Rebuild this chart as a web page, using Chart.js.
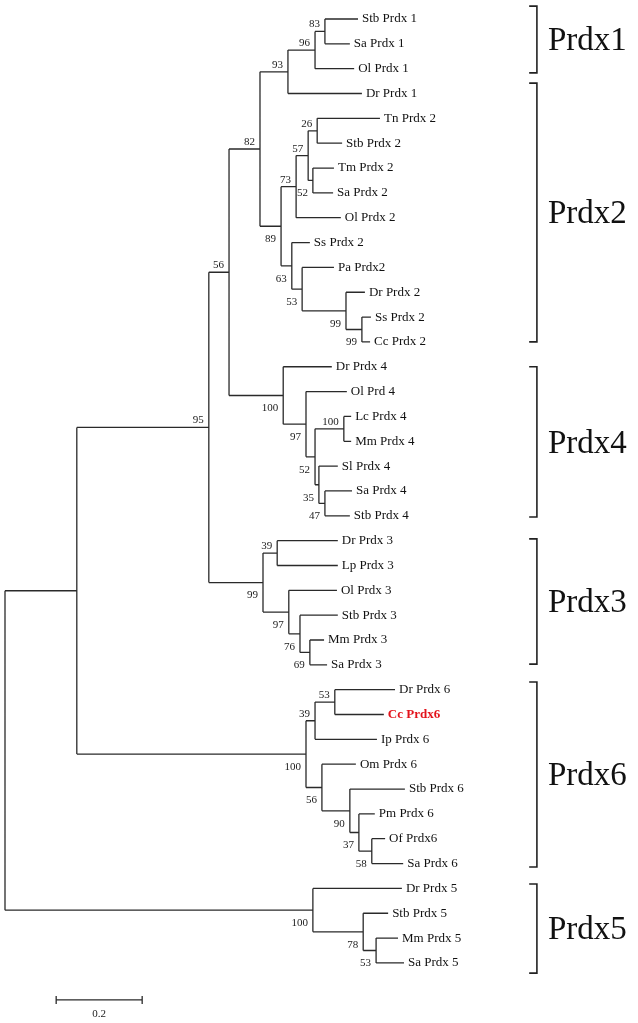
<!DOCTYPE html>
<html>
<head>
<meta charset="utf-8">
<script src="https://cdn.jsdelivr.net/npm/chart.js@4.4.1/dist/chart.umd.min.js"></script>
<style>
  html, body { margin: 0; padding: 0; background: #fff; }
  #wrap { width: 638px; height: 1023px; }
</style>
</head>
<body>
<div id="wrap"><canvas id="tree"></canvas></div>
<script>
// leaves, top to bottom, with distance from the root
const leafNames = [
  "Stb Prdx 1", "Sa Prdx 1", "Ol Prdx 1", "Dr Prdx 1",
  "Tn Prdx 2", "Stb Prdx 2", "Tm Prdx 2", "Sa Prdx 2", "Ol Prdx 2", "Ss Prdx 2",
  "Pa Prdx2", "Dr Prdx 2", "Ss Prdx 2", "Cc Prdx 2",
  "Dr Prdx 4", "Ol Prd 4", "Lc Prdx 4", "Mm Prdx 4", "Sl Prdx 4", "Sa Prdx 4", "Stb Prdx 4",
  "Dr Prdx 3", "Lp Prdx 3", "Ol Prdx 3", "Stb Prdx 3", "Mm Prdx 3", "Sa Prdx 3",
  "Dr Prdx 6", "Cc Prdx6", "Ip Prdx 6", "Om Prdx 6", "Stb Prdx 6", "Pm Prdx 6", "Of Prdx6", "Sa Prdx 6",
  "Dr Prdx 5", "Stb Prdx 5", "Mm Prdx 5", "Sa Prdx 5"
];
const leafDepth = [
  0.821, 0.802, 0.812, 0.830,
  0.872, 0.784, 0.765, 0.763, 0.781, 0.709,
  0.765, 0.837, 0.851, 0.849,
  0.760, 0.795, 0.805, 0.805, 0.774, 0.807, 0.802,
  0.774, 0.774, 0.772, 0.774, 0.742, 0.749,
  0.907, 0.881, 0.865, 0.816, 0.930, 0.860, 0.884, 0.926,
  0.923, 0.891, 0.914, 0.928
];

// internal nodes: children are leaf indexes or node ids
const nodeIds = ["A", "B", "C", "D", "E", "F", "G", "H", "I", "J", "K", "L", "M",
  "N", "O", "P", "Q", "R", "S", "T", "U", "V", "W", "X", "Y", "Z",
  "a", "b", "c", "d", "e", "f", "g", "h", "i", "j", "k", "root"];
const nodeChildren = [
  [0, 1], ["A", 2], ["B", 3], [4, 5], [6, 7], ["D", "E"], ["F", 8],
  [12, 13], [11, "H"], [10, "I"], [9, "J"], ["G", "K"], ["C", "L"],
  [16, 17], [19, 20], [18, "O"], ["N", "P"], [15, "Q"], [14, "R"], ["M", "S"],
  [21, 22], [25, 26], [24, "V"], [23, "W"], ["U", "X"], ["T", "Y"],
  [27, 28], ["a", 29], [33, 34], [32, "c"], [31, "d"], [30, "e"], ["b", "f"],
  ["Z", "g"], [37, 38], [36, "i"], [35, "j"], ["h", "k"]
];
const nodeDepth = [
  0.744, 0.721, 0.658, 0.726, 0.716, 0.705, 0.677, 0.830, 0.793, 0.691, 0.667, 0.642, 0.593,
  0.788, 0.744, 0.730, 0.721, 0.700, 0.647, 0.521,
  0.633, 0.709, 0.686, 0.660, 0.600, 0.474,
  0.767, 0.721, 0.853, 0.823, 0.802, 0.737, 0.700,
  0.167, 0.863, 0.833, 0.716, 0.0
];
const nodeSupport = [
  83, 96, 93, 26, 52, 57, 73, 99, 99, 53, 63, 89, 82,
  100, 47, 35, 52, 97, 100, 56,
  39, 69, 76, 97, 99, 95,
  53, 39, 58, 37, 90, 56, 100,
  null, 53, 78, 100, null
];

// clade brackets, in leaf rows
const cladeNames = ["Prdx1", "Prdx2", "Prdx4", "Prdx3", "Prdx6", "Prdx5"];
const cladeFrom = [-0.52, 2.58, 14.0, 20.93, 26.69, 34.82];
const cladeTo = [2.17, 13.0, 20.05, 25.97, 34.14, 38.41];

const scaleBarLength = 0.2;
const scaleBarLabel = "0.2";
const highlightLeaf = 28;

const SERIF = '"Liberation Serif", "Times New Roman", serif';
const INK = "#222";

const yCache = {};
function nodeIndex(ref) { return nodeIds.indexOf(ref); }
function rowOf(ref) {
  if (typeof ref === "number") return ref;
  if (yCache[ref] === undefined) {
    const [a, b] = nodeChildren[nodeIndex(ref)];
    yCache[ref] = (rowOf(a) + rowOf(b)) / 2;
  }
  return yCache[ref];
}
function depthOf(ref) {
  return typeof ref === "number" ? leafDepth[ref] : nodeDepth[nodeIndex(ref)];
}
const gap = () => ({ x: null, y: null });

const branchPoints = [];
nodeIds.forEach((id, k) => {
  const [a, b] = nodeChildren[k];
  const d = nodeDepth[k];
  branchPoints.push({ x: d, y: rowOf(a) }, { x: d, y: rowOf(b) }, gap());
  [a, b].forEach(c => {
    branchPoints.push({ x: d, y: rowOf(c) }, { x: depthOf(c), y: rowOf(c) }, gap());
  });
});

// upper child gets its support above the branch, lower child below
const isUpper = {};
nodeChildren.forEach(([a, b]) => { isUpper[a] = true; isUpper[b] = false; });

const bracketX = 1.237, bracketTick = 0.018;
const bracketPoints = [];
cladeNames.forEach((n, i) => {
  bracketPoints.push(
    { x: bracketX - bracketTick, y: cladeFrom[i] }, { x: bracketX, y: cladeFrom[i] },
    { x: bracketX, y: cladeTo[i] }, { x: bracketX - bracketTick, y: cladeTo[i] }, gap());
});

const barStart = 0.119, barRow = 39.49, barTick = 0.16;
const scaleBarPoints = [
  { x: barStart, y: barRow - barTick }, { x: barStart, y: barRow + barTick }, gap(),
  { x: barStart, y: barRow }, { x: barStart + scaleBarLength, y: barRow }, gap(),
  { x: barStart + scaleBarLength, y: barRow - barTick }, { x: barStart + scaleBarLength, y: barRow + barTick }
];

const treeText = {
  id: "treeText",
  afterDatasetsDraw(chart) {
    const { ctx, scales: { x, y } } = chart;
    ctx.save();
    ctx.textBaseline = "middle";

    // leaf labels
    leafNames.forEach((name, i) => {
      const px = x.getPixelForValue(leafDepth[i]) + 4;
      const py = y.getPixelForValue(i);
      if (i === highlightLeaf) {
        ctx.fillStyle = "#e3131b";
        ctx.font = "bold 13px " + SERIF;
      } else {
        ctx.fillStyle = "#111";
        ctx.font = "13px " + SERIF;
      }
      ctx.textAlign = "left";
      ctx.fillText(name, px, py);
    });

    // bootstrap values
    ctx.font = "11px " + SERIF;
    ctx.fillStyle = INK;
    ctx.textAlign = "right";
    nodeIds.forEach((id, k) => {
      if (nodeSupport[k] == null) return;
      const px = x.getPixelForValue(nodeDepth[k]) - 5;
      const py = y.getPixelForValue(rowOf(id)) + (isUpper[id] ? -7 : 13);
      ctx.fillText(String(nodeSupport[k]), px, py);
    });

    // clade names
    ctx.font = "33px " + SERIF;
    ctx.fillStyle = "#111";
    ctx.textAlign = "left";
    cladeNames.forEach((n, i) => {
      const px = x.getPixelForValue(bracketX) + 11;
      const py = y.getPixelForValue((cladeFrom[i] + cladeTo[i]) / 2) + 2;
      ctx.fillText(n, px, py);
    });

    // scale bar label
    ctx.font = "11px " + SERIF;
    ctx.fillStyle = INK;
    ctx.textAlign = "center";
    ctx.fillText(scaleBarLabel, x.getPixelForValue(barStart + scaleBarLength / 2), y.getPixelForValue(barRow) + 14);
    ctx.restore();
  }
};

const lineStyle = { showLine: true, pointRadius: 0, pointHoverRadius: 0, fill: false, spanGaps: false };

new Chart(document.getElementById("tree"), {
  type: "scatter",
  data: {
    datasets: [
      { ...lineStyle, label: "branches", data: branchPoints, borderColor: "#2a2a2a", borderWidth: 1.3 },
      { ...lineStyle, label: "clades", data: bracketPoints, borderColor: "#222", borderWidth: 1.6 },
      { ...lineStyle, label: "scale", data: scaleBarPoints, borderColor: "#2a2a2a", borderWidth: 1.3 }
    ]
  },
  options: {
    responsive: true,
    maintainAspectRatio: false,
    animation: false,
    layout: { padding: 0 },
    plugins: { legend: { display: false }, tooltip: { enabled: false } },
    scales: {
      x: { type: "linear", display: false, min: -5 / 430, max: 633 / 430 },
      y: { type: "linear", display: false, reverse: true, min: -19 / 24.84, max: 1004 / 24.84 }
    }
  },
  plugins: [treeText]
});
</script>
</body>
</html>
